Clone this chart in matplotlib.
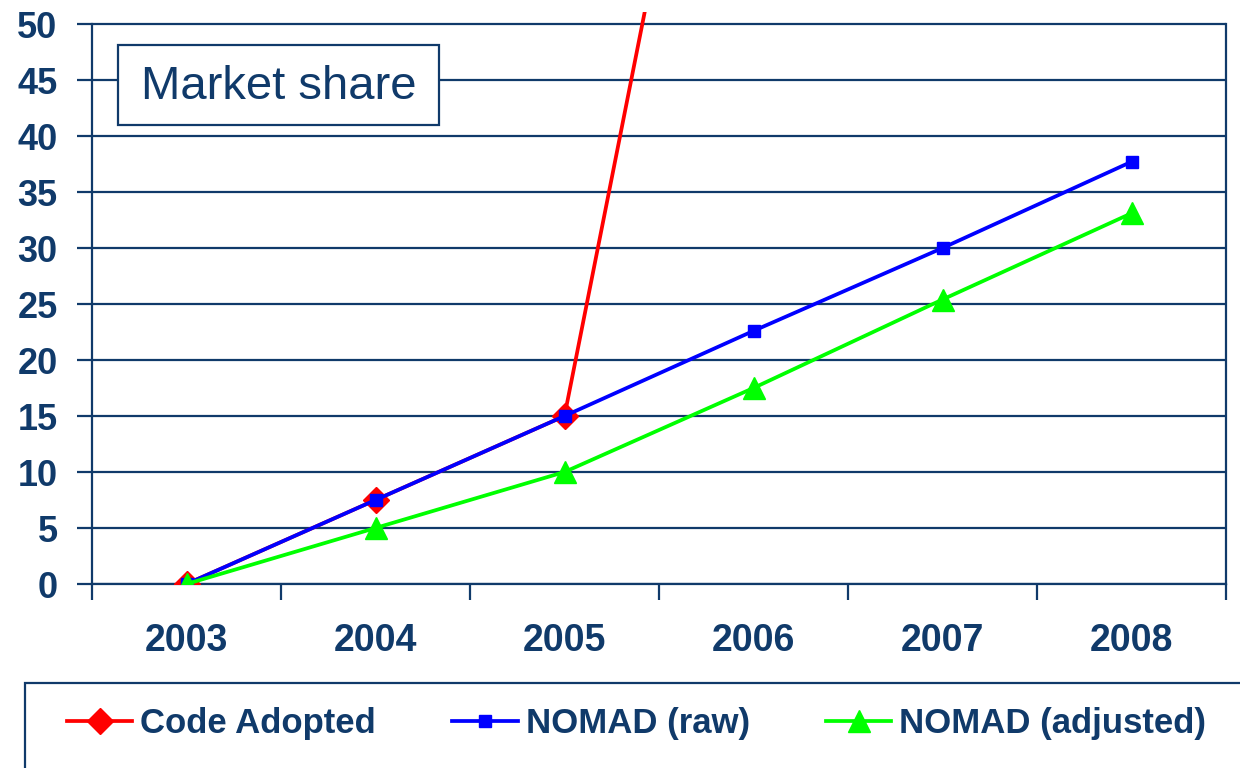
import matplotlib
matplotlib.use("Agg")
import matplotlib.pyplot as plt
from matplotlib.patches import Rectangle
from matplotlib.lines import Line2D

years = ["2003", "2004", "2005", "2006", "2007", "2008"]
code_adopted = [0, 7.5, 15, 100]
nomad_raw = [0, 7.5, 15, 22.6, 30, 37.7]
nomad_adj = [0, 5, 10, 17.5, 25.4, 33.1]
yticks = [0, 5, 10, 15, 20, 25, 30, 35, 40, 45, 50]

navy = "#103A6A"
plt.rcParams['font.family'] = ['Liberation Sans', 'DejaVu Sans']

W, H = 1240, 768
fig = plt.figure(figsize=(W / 100, H / 100), dpi=100)
ax = fig.add_axes([92 / W, (H - 584) / H, (1226 - 92) / W, (584 - 12) / H])

LW = 2.7
x = list(range(len(years)))
ax.plot(x[:len(code_adopted)], code_adopted, color="#FF0000", lw=LW, marker="D",
        ms=13, mec="#FF0000", mfc="#FF0000", zorder=3, label="Code Adopted")
ax.plot(x, nomad_raw, color="#0000FF", lw=LW, marker="s", ms=9,
        mec="#0000FF", mfc="#0000FF", zorder=4, label="NOMAD (raw)")
ax.plot(x, nomad_adj, color="#00FF00", lw=LW, marker="^", ms=16,
        mec="#00FF00", mfc="#00FF00", zorder=5, label="NOMAD (adjusted)")

ax.set_xlim(-0.5, len(years) - 0.5)
ax.set_ylim(0, 50 * 572 / 560)
ax.set_yticks(yticks)
ax.set_yticklabels([str(v) for v in yticks], fontsize=26, fontweight="bold", color=navy)
ax.yaxis.grid(True, color=navy, lw=1.6)
ax.set_axisbelow(True)

ax.set_xticks([i - 0.5 for i in range(len(years) + 1)])
ax.set_xticklabels([])
ax.set_xticks(x, minor=True)
ax.set_xticklabels(years, minor=True, fontsize=27, fontweight="bold", color=navy)
ax.tick_params(axis="x", which="major", length=11.5, width=1.6, color=navy, direction="out")
ax.tick_params(axis="x", which="minor", length=0, pad=28)
ax.tick_params(axis="y", length=10.8, width=1.6, color=navy, pad=14)

for s in ["left", "right", "bottom"]:
    ax.spines[s].set_color(navy)
    ax.spines[s].set_linewidth(1.6)
ax.spines["left"].set_bounds(0, 50)
ax.spines["right"].set_bounds(0, 50)
ax.spines["top"].set_visible(False)

# Market share box
fig.patches.append(Rectangle((118 / W, (H - 125) / H), (439 - 118) / W, 80 / H,
                             transform=fig.transFigure, facecolor="white",
                             edgecolor=navy, lw=1.6, zorder=10))
fig.text(279 / W, (H - 87) / H, "Market share", fontsize=34, color=navy,
         ha="center", va="center", zorder=11)

# Legend box
fig.patches.append(Rectangle((25 / W, -0.05), 1.05, (H - 683) / H + 0.05,
                             transform=fig.transFigure, facecolor="white",
                             edgecolor=navy, lw=1.6, zorder=1))
handles = [Line2D([], [], color="#FF0000", lw=LW, marker="D", ms=13),
           Line2D([], [], color="#0000FF", lw=LW, marker="s", ms=9),
           Line2D([], [], color="#00FF00", lw=LW, marker="^", ms=16)]
leg = fig.legend(handles, ["Code Adopted", "NOMAD (raw)", "NOMAD (adjusted)"],
                 loc="center left", bbox_to_anchor=(67 / W, (H - 724) / H), ncol=3,
                 frameon=False, handlelength=1.88, handletextpad=0.23,
                 columnspacing=2.2, borderpad=0, borderaxespad=0,
                 prop={"size": 25, "weight": "bold"})
for t in leg.get_texts():
    t.set_color(navy)

fig.savefig("out.png", dpi=100)
